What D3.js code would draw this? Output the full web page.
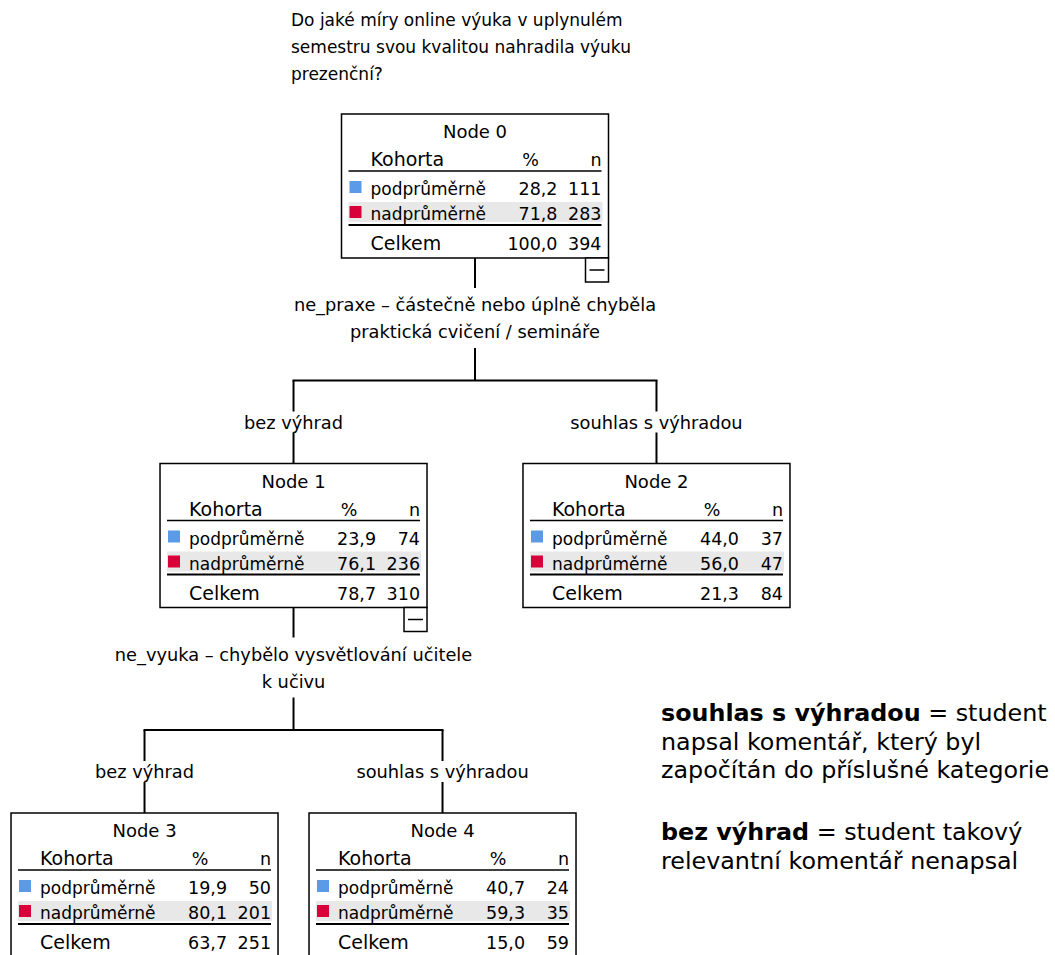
<!DOCTYPE html>
<html>
<head>
<meta charset="utf-8">
<script src="https://cdn.jsdelivr.net/npm/d3@7"></script>
<style>
  body { margin: 0; background: #fff; }
  text { font-family: "DejaVu Sans", sans-serif; fill: #000; }
</style>
</head>
<body>
<div id="chart"></div>
<script>
// tree data
var nodeIds = [0, 1, 2, 3, 4]
var parentIds = [null, 0, 0, 1, 1]
var edgeLabels = [null, "bez výhrad", "souhlas s výhradou", "bez výhrad", "souhlas s výhradou"]
var categories = ["podprůměrně", "nadprůměrně"]
var podprumernePct = [28.2, 23.9, 44.0, 19.9, 40.7]
var podprumerneN = [111, 74, 37, 50, 24]
var nadprumernePct = [71.8, 76.1, 56.0, 80.1, 59.3]
var nadprumerneN = [283, 236, 47, 201, 35]
var celkemPct = [100.0, 78.7, 21.3, 63.7, 15.0]
var celkemN = [394, 310, 84, 251, 59]
var splitLabels = [
  ["ne_praxe – částečně nebo úplně chyběla", "praktická cvičení / semináře"],
  ["ne_vyuka – chybělo vysvětlování učitele", "k učivu"],
  null, null, null
]
var titleLines = ["Do jaké míry online výuka v uplynulém", "semestru svou kvalitou nahradila výuku", "prezenční?"]
var catColors = ["#5a9ae6", "#d9003a"]

var width = 1055, height = 955
var boxW = 267, boxH = 144
var rootX = 475, rootTop = 114

var cz = d3.formatLocale({decimal: ",", thousands: " ", grouping: [3], currency: ["", " Kč"]})
var fmtPct = cz.format(".1f")

var svg = d3.select("#chart").append("svg")
  .attr("width", width)
  .attr("height", height)
  .style("display", "block")

var rows = nodeIds.map(function (id, i) {
  return {
    id: id, parent: parentIds[i], edge: edgeLabels[i], split: splitLabels[i],
    cats: [
      {name: categories[0], pct: podprumernePct[i], n: podprumerneN[i], color: catColors[0]},
      {name: categories[1], pct: nadprumernePct[i], n: nadprumerneN[i], color: catColors[1]}
    ],
    total: {pct: celkemPct[i], n: celkemN[i]}
  }
})

var root = d3.stratify()
  .id(function (d) { return d.id })
  .parentId(function (d) { return d.parent })(rows)

d3.tree()
  .nodeSize([298, 349.5])
  .separation(function (a, b) { return a.depth === 1 ? 1.218 : 1 })(root)

// title (dependent variable)
svg.append("g").selectAll("text")
  .data(titleLines)
  .join("text")
  .attr("x", rootX - 184)
  .attr("y", function (d, i) { return 26 + i * 27 })
  .attr("font-size", 17)
  .text(function (d) { return d })

var g = svg.append("g").attr("transform", "translate(" + rootX + "," + rootTop + ")")

// connectors
var links = g.append("g").attr("class", "links")
root.descendants().filter(function (d) { return d.children }).forEach(function (p) {
  var bottom = p.y + boxH
  var barY = p.children[0].y - 83
  links.append("line")
    .attr("x1", p.x).attr("x2", p.x)
    .attr("y1", bottom).attr("y2", bottom + 30)
    .attr("stroke", "#000").attr("stroke-width", 2)
  links.append("line")
    .attr("x1", p.x).attr("x2", p.x)
    .attr("y1", bottom + 90).attr("y2", barY)
    .attr("stroke", "#000").attr("stroke-width", 2)
  var xs = p.children.map(function (c) { return c.x })
  links.append("line")
    .attr("x1", d3.min(xs) - 1).attr("x2", d3.max(xs) + 1)
    .attr("y1", barY).attr("y2", barY)
    .attr("stroke", "#000").attr("stroke-width", 2)
  p.children.forEach(function (c) {
    links.append("line")
      .attr("x1", c.x).attr("x2", c.x)
      .attr("y1", barY).attr("y2", c.y)
      .attr("stroke", "#000").attr("stroke-width", 2)
  })
  p.data.split.forEach(function (line, i) {
    links.append("text")
      .attr("x", p.x)
      .attr("y", bottom + 53 + i * 27)
      .attr("text-anchor", "middle")
      .attr("font-size", 17.8)
      .text(line)
  })
})

// edge labels with white background
root.descendants().filter(function (d) { return d.parent }).forEach(function (c) {
  var lg = g.append("g")
  var t = lg.append("text")
    .attr("x", c.x)
    .attr("y", c.y - 35)
    .attr("text-anchor", "middle")
    .attr("font-size", 17.8)
    .text(c.data.edge)
  var bb = t.node().getBBox()
  lg.insert("rect", "text")
    .attr("x", bb.x).attr("y", bb.y)
    .attr("width", bb.width).attr("height", bb.height)
    .attr("fill", "#fff")
})

// node boxes
var node = g.append("g").selectAll("g")
  .data(root.descendants())
  .join("g")
  .attr("transform", function (d) { return "translate(" + (d.x - boxW / 2) + "," + d.y + ")" })

node.append("rect")
  .attr("width", boxW).attr("height", boxH)
  .attr("fill", "#fff").attr("stroke", "#000").attr("stroke-width", 1.5)

node.append("text")
  .attr("x", boxW / 2).attr("y", 24)
  .attr("text-anchor", "middle").attr("font-size", 18)
  .text(function (d) { return "Node " + d.data.id })

// column headers
node.append("text").attr("x", 29).attr("y", 52).attr("font-size", 19).text("Kohorta")
node.append("text").attr("x", 189).attr("y", 52).attr("text-anchor", "middle").attr("font-size", 17.5).text("%")
node.append("text").attr("x", boxW - 7).attr("y", 52).attr("text-anchor", "end").attr("font-size", 17.5).text("n")
node.append("line")
  .attr("x1", 7).attr("x2", boxW - 7).attr("y1", 57).attr("y2", 57)
  .attr("stroke", "#000").attr("stroke-width", 1.5)

// category rows
node.each(function (d) {
  var sel = d3.select(this)
  d.data.cats.forEach(function (c, i) {
    var base = 81 + i * 25
    if (i === 1) {
      sel.append("rect")
        .attr("x", 7).attr("y", base - 18)
        .attr("width", boxW - 13).attr("height", 20)
        .attr("fill", "#e8e8e8")
    }
    sel.append("rect")
      .attr("x", 8).attr("y", base - 14)
      .attr("width", 12).attr("height", 12)
      .attr("fill", c.color)
    sel.append("text").attr("x", 29).attr("y", base).attr("font-size", 17).text(c.name)
    sel.append("text").attr("x", 216).attr("y", base).attr("text-anchor", "end").attr("font-size", 17.5).text(fmtPct(c.pct))
    sel.append("text").attr("x", boxW - 7).attr("y", base).attr("text-anchor", "end").attr("font-size", 17.5).text(c.n)
  })
  sel.append("line")
    .attr("x1", 7).attr("x2", boxW - 7).attr("y1", 111).attr("y2", 111)
    .attr("stroke", "#000").attr("stroke-width", 2)
  sel.append("text").attr("x", 29).attr("y", 136).attr("font-size", 19).text("Celkem")
  sel.append("text").attr("x", 216).attr("y", 136).attr("text-anchor", "end").attr("font-size", 17.5).text(fmtPct(d.data.total.pct))
  sel.append("text").attr("x", boxW - 7).attr("y", 136).attr("text-anchor", "end").attr("font-size", 17.5).text(d.data.total.n)

  // collapse toggle for split nodes
  if (d.children) {
    sel.append("rect")
      .attr("x", boxW - 23).attr("y", boxH)
      .attr("width", 23).attr("height", 24)
      .attr("fill", "#fff").attr("stroke", "#000").attr("stroke-width", 1.5)
    sel.append("line")
      .attr("x1", boxW - 19).attr("x2", boxW - 4)
      .attr("y1", boxH + 12).attr("y2", boxH + 12)
      .attr("stroke", "#000").attr("stroke-width", 1.5)
  }
})

// explanatory note
var note = svg.append("g").attr("font-size", 23.8)
var noteParas = [
  [[["souhlas s výhradou", true], [" = student", false]],
   [["napsal komentář, který byl", false]],
   [["započítán do příslušné kategorie", false]]],
  [[["bez výhrad", true], [" = student takový", false]],
   [["relevantní komentář nenapsal", false]]]
]
noteParas.forEach(function (para, pi) {
  para.forEach(function (parts, li) {
    var t = note.append("text")
      .attr("x", 661)
      .attr("y", 721 + pi * 119 + li * 28.5)
      .attr("xml:space", "preserve")
    parts.forEach(function (p) {
      t.append("tspan")
        .attr("font-weight", p[1] ? "bold" : "normal")
        .text(p[0])
    })
  })
})
</script>
</body>
</html>
